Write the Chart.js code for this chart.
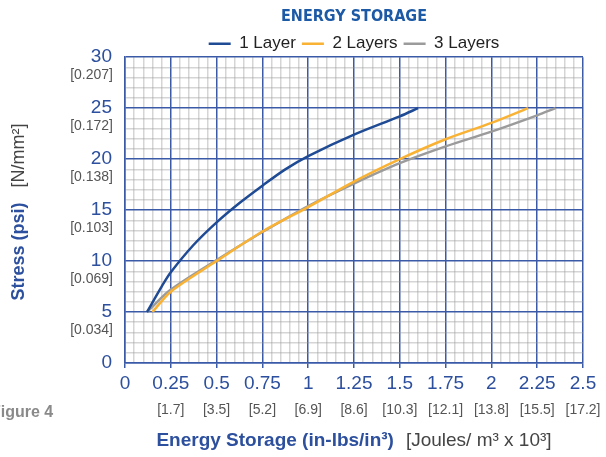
<!DOCTYPE html>
<html>

<head>
    <title>Energy Storage</title>
    <script src="https://cdn.jsdelivr.net/npm/chart.js"></script>
    <style>
        body {
            margin: 0;
            background: #ffffff;
        }

        .chart-container {
            position: relative;
            width: 606px;
            height: 457px;
        }
    </style>
</head>

<body>
    <div class="chart-container">
        <canvas id="energyChart" width="606" height="457"></canvas>
    </div>

    <script>
        // Values
        var layer1X = [0.12, 0.2, 0.25, 0.375, 0.5, 0.625, 0.75, 0.875, 1.0, 1.25, 1.5, 1.6];
        var layer1Y = [5, 7.5, 8.9, 11.6, 13.8, 15.7, 17.4, 19.0, 20.3, 22.4, 24.2, 25];

        var layer2X = [0.15, 0.25, 0.5, 0.75, 1.0, 1.25, 1.5, 1.75, 2.0, 2.2];
        var layer2Y = [5, 7.0, 10.0, 12.9, 15.3, 17.8, 20.0, 21.95, 23.55, 25];

        var layer3X = [0.12, 0.25, 0.5, 0.75, 1.0, 1.25, 1.5, 1.75, 2.0, 2.25, 2.35];
        var layer3Y = [5, 7.2, 10.1, 12.85, 15.4, 17.6, 19.6, 21.25, 22.7, 24.3, 25];

        // Tick labels (imperial on the axis, metric in brackets)
        var xTickValues = [0.25, 0.5, 0.75, 1, 1.25, 1.5, 1.75, 2, 2.25, 2.5];
        var xMetricLabels = ['[1.7]', '[3.5]', '[5.2]', '[6.9]', '[8.6]', '[10.3]', '[12.1]', '[13.8]', '[15.5]', '[17.2]'];
        var yTickValues = [5, 10, 15, 20, 25, 30];
        var yMetricLabels = ['[0.034]', '[0.069]', '[0.103]', '[0.138]', '[0.172]', '[0.207]'];

        var blueGrid = '#3a5aa8';
        var greyGrid = 'rgba(150, 150, 150, 0.4)';
        var labelBlue = '#2c4f9e';
        var arial = '"Liberation Sans", Arial, sans-serif';

        function toPoints(xs, ys) {
            var pts = [];
            for (var i = 0; i < xs.length; i++) {
                pts.push({ x: xs[i], y: ys[i] });
            }
            return pts;
        }

        function isMajorX(v) {
            return Math.abs(v * 4 - Math.round(v * 4)) < 1e-6;
        }

        function isMajorY(v) {
            return Math.abs(v / 5 - Math.round(v / 5)) < 1e-6;
        }

        // title and legend are centred over the plot area, not the whole canvas
        var centreOverPlot = {
            id: 'centreOverPlot',
            afterLayout: function (chart) {
                chart.titleBlock.left = chart.chartArea.left;
                chart.titleBlock.top += 3;
                chart.legend.left = chart.chartArea.left;
                chart.legend.top += 5;
            }
        };

        // Bracketed metric labels, axis titles and the figure caption
        var extraText = {
            id: 'extraText',
            afterDraw: function (chart) {
                var ctx = chart.ctx;
                var area = chart.chartArea;
                var xs = chart.scales.x;
                var ys = chart.scales.y;
                ctx.save();

                ctx.font = '14px ' + arial;
                ctx.fillStyle = '#555555';
                ctx.textBaseline = 'middle';
                ctx.textAlign = 'center';
                for (var i = 0; i < xTickValues.length; i++) {
                    ctx.fillText(xMetricLabels[i], xs.getPixelForValue(xTickValues[i]), area.bottom + 47);
                }
                ctx.textAlign = 'right';
                for (var j = 0; j < yTickValues.length; j++) {
                    ctx.fillText(yMetricLabels[j], area.left - 12, ys.getPixelForValue(yTickValues[j]) + 18);
                }

                // x axis title
                var boldPart = 'Energy Storage (in-lbs/in\u00b3)';
                var plainPart = '[Joules/ m\u00b3 x 10\u00b3]';
                var gap = 12;
                ctx.textAlign = 'left';
                ctx.font = 'bold 19px ' + arial;
                var w1 = ctx.measureText(boldPart).width;
                ctx.font = '19px ' + arial;
                var w2 = ctx.measureText(plainPart).width;
                var startX = (area.left + area.right) / 2 - (w1 + gap + w2) / 2;
                ctx.font = 'bold 19px ' + arial;
                ctx.fillStyle = labelBlue;
                ctx.fillText(boldPart, startX, 441);
                ctx.font = '19px ' + arial;
                ctx.fillStyle = '#444444';
                ctx.fillText(plainPart, startX + w1 + gap, 441);

                // y axis title
                var yBold = 'Stress (psi)';
                var yPlain = '[N/mm\u00b2]';
                var ygap = 15;
                ctx.font = 'bold 18px ' + arial;
                var h1 = ctx.measureText(yBold).width;
                ctx.font = '18px ' + arial;
                var h2 = ctx.measureText(yPlain).width;
                ctx.translate(19, 212);
                ctx.rotate(-Math.PI / 2);
                var start = -(h1 + ygap + h2) / 2;
                ctx.font = 'bold 18px ' + arial;
                ctx.fillStyle = labelBlue;
                ctx.fillText(yBold, start, 0);
                ctx.font = '18px ' + arial;
                ctx.fillStyle = '#444444';
                ctx.fillText(yPlain, start + h1 + ygap, 0);
                ctx.setTransform(1, 0, 0, 1, 0, 0);

                // caption, cut off at the left edge as in the source
                ctx.font = 'bold 16px ' + arial;
                ctx.fillStyle = '#8a8a8a';
                ctx.fillText('Figure 4', -9, 413);

                ctx.restore();
            }
        };

        var ctx = document.getElementById('energyChart').getContext('2d');
        var energyChart = new Chart(ctx, {
            type: 'line',
            data: {
                datasets: [{
                    label: '1 Layer',
                    data: toPoints(layer1X, layer1Y),
                    borderColor: '#1f4a94',
                    backgroundColor: '#1f4a94',
                    borderWidth: 2.5,
                    pointRadius: 0,
                    pointStyle: 'line',
                    tension: 0.3
                }, {
                    label: '2 Layers',
                    data: toPoints(layer2X, layer2Y),
                    borderColor: '#f9b233',
                    backgroundColor: '#f9b233',
                    borderWidth: 2.5,
                    pointRadius: 0,
                    pointStyle: 'line',
                    tension: 0.3
                }, {
                    label: '3 Layers',
                    data: toPoints(layer3X, layer3Y),
                    borderColor: '#9b9b9b',
                    backgroundColor: '#9b9b9b',
                    borderWidth: 2.5,
                    pointRadius: 0,
                    pointStyle: 'line',
                    tension: 0.3
                }]
            },
            options: {
                responsive: false,
                animation: false,
                devicePixelRatio: 1,
                layout: {
                    padding: { left: 0, right: 23, top: 0, bottom: 0 }
                },
                plugins: {
                    title: {
                        display: true,
                        text: 'ENERGY STORAGE',
                        color: '#1d5aa6',
                        font: { family: '"Liberation Sans Narrow", "DejaVu Sans Condensed", sans-serif', size: 16, weight: 'bold' },
                        padding: { top: 4, bottom: 1 }
                    },
                    legend: {
                        labels: {
                            usePointStyle: true,
                            pointStyle: 'line',
                            pointStyleWidth: 22,
                            boxHeight: 3,
                            color: '#222222',
                            padding: 6,
                            font: { family: arial, size: 17 }
                        }
                    },
                    tooltip: { enabled: false }
                },
                scales: {
                    x: {
                        type: 'linear',
                        min: 0,
                        max: 2.5,
                        afterFit: function (scale) { scale.height = 94; },
                        border: { color: blueGrid, width: 1.5 },
                        grid: {
                            lineWidth: 1.5,
                            color: function (c) { return isMajorX(c.tick.value) ? blueGrid : greyGrid; },
                            tickColor: function (c) { return isMajorX(c.tick.value) ? blueGrid : 'rgba(0,0,0,0)'; },
                            tickLength: 5
                        },
                        ticks: {
                            stepSize: 0.05,
                            autoSkip: false,
                            maxRotation: 0,
                            padding: 4,
                            color: labelBlue,
                            font: { family: arial, size: 19 },
                            callback: function (v) {
                                return isMajorX(v) ? String(Math.round(v * 100) / 100) : '';
                            }
                        }
                    },
                    y: {
                        min: 0,
                        max: 30,
                        afterFit: function (scale) { scale.width = 125; },
                        border: { color: blueGrid, width: 1.5 },
                        grid: {
                            lineWidth: 1.5,
                            color: function (c) { return isMajorY(c.tick.value) ? blueGrid : greyGrid; },
                            drawTicks: false
                        },
                        ticks: {
                            stepSize: 1,
                            autoSkip: false,
                            padding: 13,
                            color: labelBlue,
                            font: { family: arial, size: 19 },
                            callback: function (v) {
                                return isMajorY(v) ? String(v) : '';
                            }
                        }
                    }
                }
            },
            plugins: [centreOverPlot, extraText]
        });
    </script>
</body>

</html>
